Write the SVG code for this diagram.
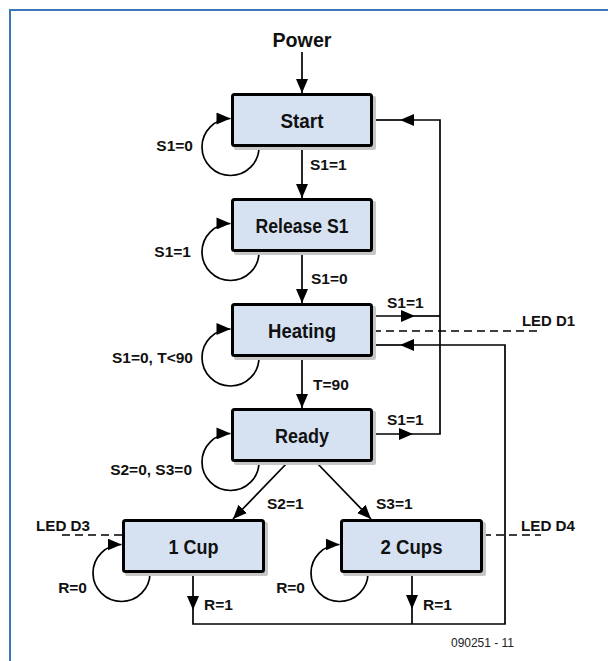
<svg xmlns="http://www.w3.org/2000/svg" width="608" height="661" viewBox="0 0 608 661">
<style>
.box{fill:#d6e2f2;stroke:#000;stroke-width:3}
.shd{fill:#c6c6c6}
.t{font-family:"Liberation Sans Narrow","Liberation Sans",Arial,sans-serif;font-weight:bold;font-size:21px;fill:#111;text-anchor:middle}
.l{font-family:"Liberation Sans",Arial,sans-serif;font-weight:bold;font-size:15.5px;fill:#111}
.e{text-anchor:end}
.c{fill:none;stroke:#000;stroke-width:1.7}
.d{fill:none;stroke:#000;stroke-width:1.6;stroke-dasharray:8 5}
</style>
<defs>
<marker id="ah" markerUnits="userSpaceOnUse" markerWidth="14" markerHeight="12" viewBox="0 0 14 12" refX="14" refY="6" orient="auto">
<path d="M0,0 L14,6 L0,12 z" fill="#000"/>
</marker>
</defs>
<rect width="608" height="661" fill="#fff"/>
<path d="M10,661 V10 H608" fill="none" stroke="#3a79b9" stroke-width="2"/>

<g id="connectors">
<path class="c" d="M302,52 V93" marker-end="url(#ah)"/>
<path class="c" d="M302,147 V198" marker-end="url(#ah)"/>
<path class="c" d="M302,252 V303" marker-end="url(#ah)"/>
<path class="c" d="M302,358 V408" marker-end="url(#ah)"/>
<path class="c" d="M288,462 L233,519" marker-end="url(#ah)"/>
<path class="c" d="M316,462 L371,519" marker-end="url(#ah)"/>
<path class="c" d="M373,316 H415" marker-end="url(#ah)"/>
<path class="c" d="M415,316 H440"/>
<path class="c" d="M373,434 H413" marker-end="url(#ah)"/>
<path class="c" d="M413,434 H440 V120 H400" marker-end="url(#ah)"/>
<path class="c" d="M400,120 H373"/>
<path class="c" d="M193,573 V610" marker-end="url(#ah)"/>
<path class="c" d="M193,610 V624 H505 V345 H400" marker-end="url(#ah)"/>
<path class="c" d="M400,345 H373"/>
<path class="c" d="M412,573 V609" marker-end="url(#ah)"/>
<path class="c" d="M412,609 V624"/>
<path class="c" d="M259,147 A28.5,28.5 0 1 1 230.5,118.5" marker-end="url(#ah)"/>
<path class="c" d="M259,252 A28.5,28.5 0 1 1 230.5,223.5" marker-end="url(#ah)"/>
<path class="c" d="M259,357.5 A28.5,28.5 0 1 1 230.5,329" marker-end="url(#ah)"/>
<path class="c" d="M259,462 A28.5,28.5 0 1 1 230.5,433.5" marker-end="url(#ah)"/>
<path class="c" d="M150,573 A28.5,28.5 0 1 1 121.5,544.5" marker-end="url(#ah)"/>
<path class="c" d="M368,573 A28.5,28.5 0 1 1 339.5,544.5" marker-end="url(#ah)"/>
<path class="d" d="M373,331 H540"/>
<path class="d" d="M62,535 H122"/>
<path class="d" d="M483,535 H541"/>
<text class="l" x="310" y="170">S1=1</text>
<text class="l" x="311" y="284">S1=0</text>
<text class="l" x="313" y="390">T=90</text>
<text class="l" x="387" y="308">S1=1</text>
<text class="l" x="387" y="425">S1=1</text>
<text class="l" x="267" y="509">S2=1</text>
<text class="l" x="376" y="509">S3=1</text>
<text class="l" x="204" y="610">R=1</text>
<text class="l" x="423" y="610">R=1</text>
<text class="l e" x="193" y="151">S1=0</text>
<text class="l e" x="191" y="257">S1=1</text>
<text class="l e" x="193" y="363">S1=0, T&lt;90</text>
<text class="l e" x="192" y="475">S2=0, S3=0</text>
<text class="l e" x="87" y="593">R=0</text>
<text class="l e" x="305" y="593">R=0</text>
<text class="l" x="522" y="326" textLength="53" lengthAdjust="spacingAndGlyphs">LED D1</text>
<text class="l" x="36" y="531" textLength="54" lengthAdjust="spacingAndGlyphs">LED D3</text>
<text class="l" x="521" y="531" textLength="54" lengthAdjust="spacingAndGlyphs">LED D4</text>
</g>

<text class="t" x="302" y="47" font-size="20" textLength="59" lengthAdjust="spacingAndGlyphs">Power</text>

<g id="start">
<rect class="shd" x="234" y="96" width="142" height="54" rx="2"/>
<rect class="box" x="232.5" y="94.5" width="139" height="51" rx="2"/>
<text class="t" x="302" y="128" textLength="43" lengthAdjust="spacingAndGlyphs">Start</text>
</g>
<g id="release">
<rect class="shd" x="234" y="201" width="142" height="54" rx="2"/>
<rect class="box" x="232.5" y="199.5" width="139" height="51" rx="2"/>
<text class="t" x="302" y="233" textLength="93" lengthAdjust="spacingAndGlyphs">Release S1</text>
</g>
<g id="heating">
<rect class="shd" x="234" y="306" width="142" height="54" rx="2"/>
<rect class="box" x="232.5" y="304.5" width="139" height="51" rx="2"/>
<text class="t" x="302" y="338" textLength="68" lengthAdjust="spacingAndGlyphs">Heating</text>
</g>
<g id="ready">
<rect class="shd" x="234" y="411" width="142" height="54" rx="2"/>
<rect class="box" x="232.5" y="409.5" width="139" height="51" rx="2"/>
<text class="t" x="302" y="443" textLength="54" lengthAdjust="spacingAndGlyphs">Ready</text>
</g>
<g id="cup1">
<rect class="shd" x="125" y="522" width="143" height="54" rx="2"/>
<rect class="box" x="123.5" y="520.5" width="140" height="51" rx="2"/>
<text class="t" x="193.5" y="554" textLength="50" lengthAdjust="spacingAndGlyphs">1 Cup</text>
</g>
<g id="cup2">
<rect class="shd" x="343" y="522" width="143" height="54" rx="2"/>
<rect class="box" x="341.5" y="520.5" width="140" height="51" rx="2"/>
<text class="t" x="411.5" y="554" textLength="62" lengthAdjust="spacingAndGlyphs">2 Cups</text>
</g>

<text x="451" y="647" font-family="'Liberation Sans',Arial,sans-serif" font-size="13.5" fill="#222" textLength="63" lengthAdjust="spacingAndGlyphs">090251 - 11</text>
</svg>
